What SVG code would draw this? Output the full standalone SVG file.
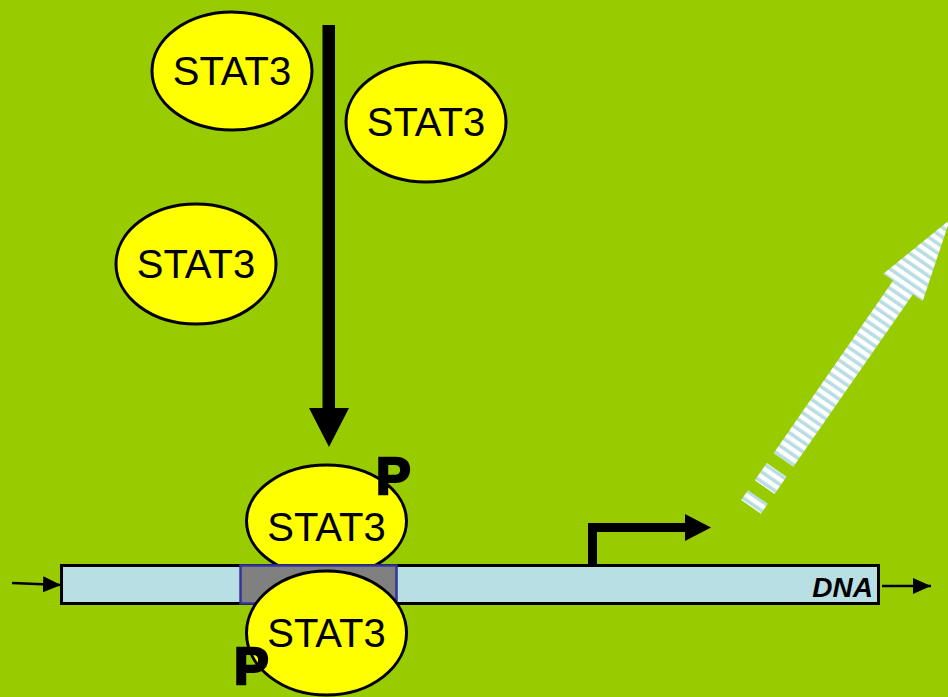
<svg xmlns="http://www.w3.org/2000/svg" width="948" height="697" viewBox="0 0 948 697">
<style>
.stat{fill:#FFFF00;stroke:#000;stroke-width:3}
.lbl{font-family:"Liberation Sans",Arial,sans-serif;font-size:40px;fill:#000;text-anchor:middle}
.p{font-family:"Liberation Sans",Arial,sans-serif;font-size:52px;font-weight:bold;fill:#000;stroke:#000;stroke-width:2.5}
.thin{stroke:#000;stroke-width:2.5;fill:none}
</style>
<defs>
<pattern id="stripes" patternUnits="userSpaceOnUse" width="8" height="10">
<rect width="8" height="10" fill="#FFFFFF"/>
<rect width="3.6" height="10" fill="#B8DDE3"/>
</pattern>
<marker id="ah" markerWidth="18" markerHeight="16" refX="18" refY="8" orient="auto" markerUnits="userSpaceOnUse" viewBox="0 0 18 16">
<path d="M0,0 L18,8 L0,16 Z" fill="#000"/>
</marker>
</defs>
<rect width="948" height="697" fill="#99CC00"/>

<g id="stat3-a"><ellipse class="stat" cx="232" cy="71" rx="80" ry="59"/><text class="lbl" x="232" y="85">STAT3</text></g>
<g id="stat3-b"><ellipse class="stat" cx="426" cy="122" rx="80" ry="60"/><text class="lbl" x="426" y="136">STAT3</text></g>
<g id="stat3-c"><ellipse class="stat" cx="196" cy="264" rx="80" ry="60"/><text class="lbl" x="196" y="278">STAT3</text></g>

<g id="stat3-top"><ellipse class="stat" cx="326.5" cy="521" rx="80" ry="56"/><text class="lbl" x="326.5" y="541">STAT3</text></g>

<g id="dna">
<rect x="61.5" y="565.5" width="817" height="38" fill="#B8E0E4" stroke="#000" stroke-width="3"/>
<rect x="240.5" y="565.5" width="156" height="38" fill="#808080" stroke="#333399" stroke-width="2.5"/>
<text x="873" y="597" font-family="'Liberation Sans',Arial,sans-serif" font-size="28" font-weight="bold" font-style="italic" text-anchor="end">DNA</text>
</g>

<g id="stat3-bottom"><ellipse class="stat" cx="326.5" cy="633" rx="80" ry="62"/><text class="lbl" x="326.5" y="647">STAT3</text></g>

<g id="p-top"><text class="p" x="376" y="494">P</text></g>
<g id="p-bottom"><text class="p" x="234" y="684">P</text></g>

<g id="connectors">
<path d="M322.5,25 H335 V408 H349 L329,447 L309,408 H322.5 Z" fill="#000"/>
<line class="thin" x1="12" y1="583" x2="61" y2="585" marker-end="url(#ah)"/>
<line class="thin" x1="882" y1="586" x2="931" y2="586" marker-end="url(#ah)"/>
<path d="M588,565 V523 H685 V514 L711,527.5 L685,541 V532 H597 V565 Z" fill="#000"/>
<g id="striped-arrow" transform="translate(783.5,460) rotate(-55.3)">
<path d="M0,-12 H210 V-24 L292,0 L210,24 V12 H0 Z" fill="url(#stripes)"/>
<rect x="-33" y="-12" width="21" height="24" fill="url(#stripes)"/>
<rect x="-57" y="-12" width="12" height="24" fill="url(#stripes)"/>
</g>
</g>
</svg>
